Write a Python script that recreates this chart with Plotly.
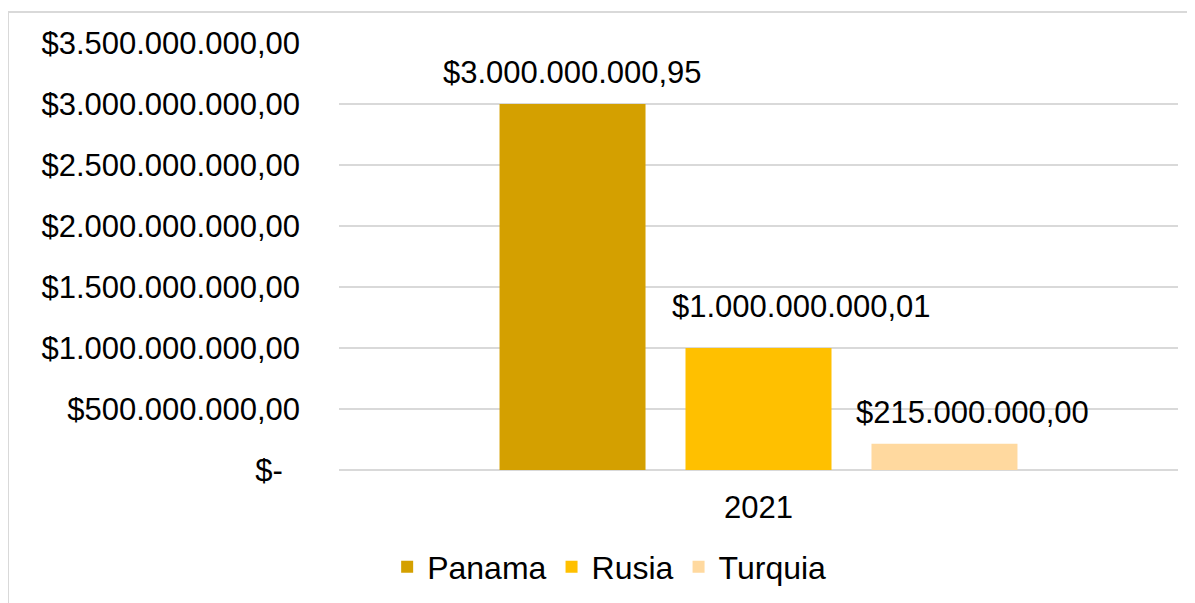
import plotly.graph_objects as go

# data
categories = ["2021"]
countries = ["Panama", "Rusia", "Turquia"]
values = [3000000000.95, 1000000000.01, 215000000.00]
value_labels = ["$3.000.000.000,95", "$1.000.000.000,01", "$215.000.000,00"]
colors = ["#D4A000", "#FFC000", "#FFD99F"]

tick_vals = [0, 5e8, 1e9, 1.5e9, 2e9, 2.5e9, 3e9, 3.5e9]
tick_text = ["$-\u00a0\u00a0", "$500.000.000,00", "$1.000.000.000,00", "$1.500.000.000,00",
             "$2.000.000.000,00", "$2.500.000.000,00", "$3.000.000.000,00", "$3.500.000.000,00"]

FONT = "Liberation Sans, Arial, sans-serif"
FSIZE = 31
GRID = "#D9D9D9"

# page body adds an 8px offset, margins below account for it
W, H = 1195, 603
ML, MR, MT, MB = 331, 25, 35, 141
BARGAP, GROUPGAP = 0.335, 0.215
# labels were nudged by hand in the original chart
LABEL_DX = [0, 43, 28]
LABEL_DY = [12, 22, 12]

fig = go.Figure()
for name, val, col in zip(countries, values, colors):
    fig.add_trace(go.Bar(
        x=categories, y=[val], name=name,
        marker=dict(color=col, line=dict(width=0)),
    ))

# value labels placed over each bar of the group
plot_w = W - ML - MR
slot = (1 - BARGAP) * plot_w / len(countries)
annotations = []
for i, (val, lab) in enumerate(zip(values, value_labels)):
    annotations.append(dict(
        x=0, y=val, xref="x", yref="y", text=lab, showarrow=False,
        xshift=(i - (len(countries) - 1) / 2) * slot + LABEL_DX[i],
        yanchor="bottom", yshift=LABEL_DY[i],
        font=dict(family=FONT, size=FSIZE, color="black"),
    ))

fig.update_layout(
    width=W, height=H,
    margin=dict(l=ML, r=MR, t=MT, b=MB),
    paper_bgcolor="white", plot_bgcolor="white",
    font=dict(family=FONT, size=FSIZE, color="black"),
    barmode="group", bargap=BARGAP, bargroupgap=GROUPGAP,
    showlegend=True,
    legend=dict(orientation="h", x=0.322, xanchor="center", y=-0.227, yanchor="middle",
                font=dict(size=32), itemwidth=30, traceorder="normal"),
    xaxis=dict(type="category", showgrid=False, showline=False, ticks="", ticklabelstandoff=16),
    yaxis=dict(range=[0, 3.5e9], tickvals=tick_vals, ticktext=tick_text,
               showgrid=True, gridcolor=GRID, gridwidth=1.5,
               zeroline=True, zerolinecolor=GRID, zerolinewidth=1.5,
               showline=False, ticks="", ticklabelstandoff=38),
    annotations=annotations,
    shapes=[dict(type="rect", xref="paper", yref="paper",
                 x0=-0.3945, x1=1.5, y0=-0.5, y1=1.0726,
                 line=dict(color=GRID, width=2), fillcolor="rgba(0,0,0,0)", layer="below")],
)

fig.write_html("out.html")
